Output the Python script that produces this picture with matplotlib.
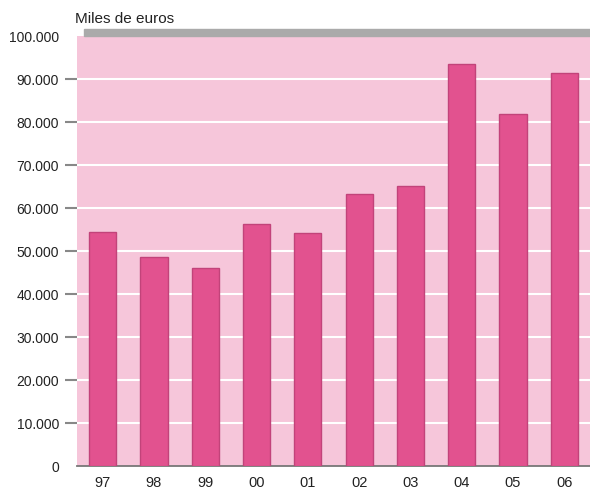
import matplotlib.pyplot as plt
from matplotlib.patches import Rectangle
from matplotlib.ticker import FuncFormatter

plt.rcParams['font.family'] = ['Liberation Sans Narrow', 'Liberation Sans', 'DejaVu Sans']

# data (miles de euros)
years = ["97", "98", "99", "00", "01", "02", "03", "04", "05", "06"]
values = [54500, 48700, 46000, 56200, 54300, 63200, 65200, 93500, 81900, 91500]
yticks = list(range(0, 100001, 10000))

fig = plt.figure(figsize=(5.9, 4.92), dpi=100)
ax = fig.add_axes([0.1305, 0.0528, 0.8695, 0.874])
ax.set_facecolor("#f6c6da")

ax.bar(range(len(years)), values, width=0.53, color="#e2528f",
       edgecolor="#c2437a", linewidth=1.0, zorder=3)

ax.set_xlim(-0.5, len(years) - 0.5)
ax.set_ylim(0, 100000)
ax.set_yticks(yticks)
ax.yaxis.set_major_formatter(FuncFormatter(lambda v, p: f"{int(v):,}".replace(",", ".")))
ax.set_xticks(range(len(years)))
ax.set_xticklabels(years)

for v in yticks[1:-1]:
    ax.axhline(v, color="white", linewidth=1.5, zorder=1)

for s in ["top", "right", "left"]:
    ax.spines[s].set_visible(False)
ax.spines["bottom"].set_color("#777777")
ax.spines["bottom"].set_linewidth(1.3)

ax.tick_params(axis="y", length=9, width=1.5, color="#888888", pad=4,
               labelsize=10, labelcolor="#222222")
ax.tick_params(axis="x", length=0, pad=7, labelsize=10.5, labelcolor="#222222")
ticks = ax.yaxis.get_major_ticks()
ticks[0].tick1line.set_visible(False)
ticks[-1].tick1line.set_visible(False)

# grey band along the top
fig.patches.append(Rectangle((84 / 590, 1 - 36 / 492), (590 - 84) / 590, 7 / 492,
                             transform=fig.transFigure, color="#aaaaaa", zorder=5))

fig.text(75 / 590, 1 - 19 / 492, "Miles de euros", fontsize=11,
         color="#222222", ha="left", va="center",
         family=['Liberation Sans', 'DejaVu Sans'])

fig.savefig("out.png", dpi=100)
